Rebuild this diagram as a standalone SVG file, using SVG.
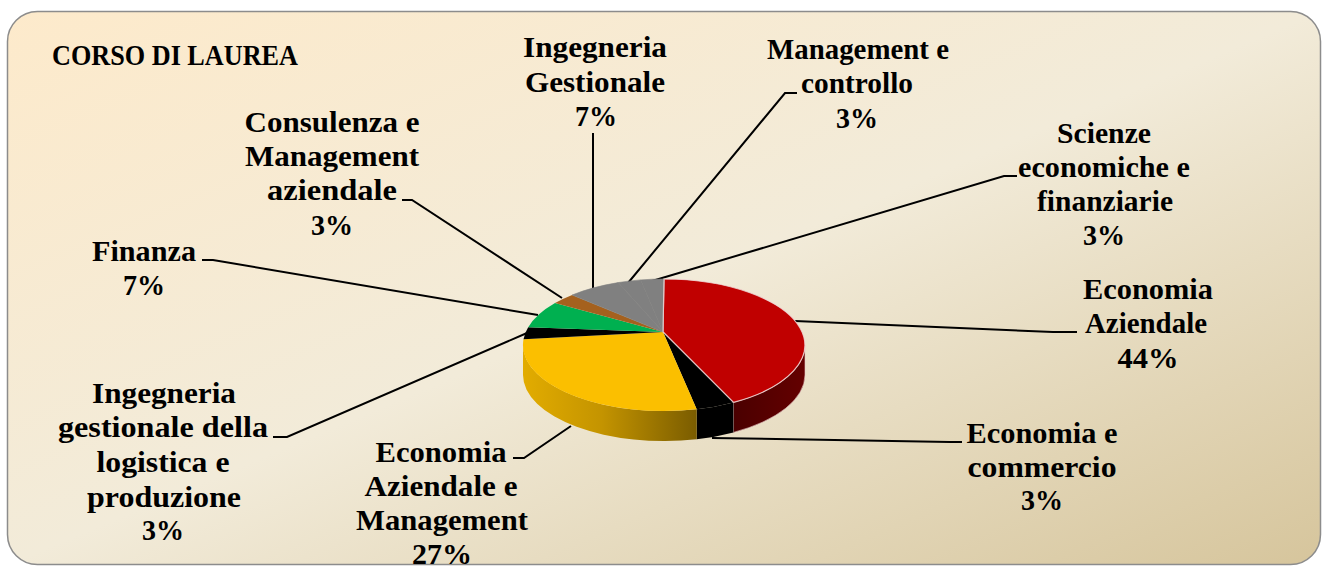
<svg xmlns="http://www.w3.org/2000/svg" width="1325" height="572" viewBox="0 0 1325 572">
<style>
  text { font-family: "Liberation Serif", "Times New Roman", serif; font-weight: bold; font-size: 29.5px; fill: #000; text-anchor: middle; }
  .lead { fill: none; stroke: #000; stroke-width: 2; }
  .top-red { fill: #C00000; stroke: #F0D8D8; stroke-width: 1.2; stroke-opacity: 0.8; }
</style>
<defs>
  <linearGradient id="bg" x1="0" y1="0" x2="1" y2="1">
    <stop offset="0" stop-color="#FDEACB"/>
    <stop offset="0.5" stop-color="#F2EBD9"/>
    <stop offset="1" stop-color="#D6C59C"/>
  </linearGradient>
  <linearGradient id="ySide" gradientUnits="userSpaceOnUse" x1="523" y1="0" x2="697" y2="0">
    <stop offset="0" stop-color="#E2AC00"/>
    <stop offset="0.45" stop-color="#C49400"/>
    <stop offset="1" stop-color="#7A5C00"/>
  </linearGradient>
  <linearGradient id="rSide" gradientUnits="userSpaceOnUse" x1="733" y1="0" x2="805" y2="0">
    <stop offset="0" stop-color="#4A0000"/>
    <stop offset="1" stop-color="#640000"/>
  </linearGradient>
</defs>

<rect x="7.5" y="11.5" width="1313" height="553" rx="30" ry="30" fill="url(#bg)" stroke="#8C8C8C" stroke-width="1.5"/>

<g id="title"><text x="52" y="65" style="text-anchor:start" textLength="246" lengthAdjust="spacingAndGlyphs">CORSO DI LAUREA</text></g>

<g id="connectors">
  <path class="lead" d="M795 321 L1053 332 L1077 332"/>
  <path class="lead" d="M712 438 L950 442 L962 442"/>
  <path class="lead" d="M571 426 L524 458 L513 458"/>
  <path class="lead" d="M527 333 L287 437 L273 437"/>
  <path class="lead" d="M538 315 L213 260 L202 260"/>
  <path class="lead" d="M562 298 L412 200 L402 200"/>
  <path class="lead" d="M593 288 L593 133"/>
  <path class="lead" d="M628 283 L785 93 L797 93"/>
  <path class="lead" d="M652 281 L1004 176 L1017 176"/>
</g>

<g id="pie">
  <g id="sides">
    <path d="M805 345 A141 66 0 0 1 733.4 402.4 L733.4 432.4 A141 66 0 0 0 805 375 Z" fill="url(#rSide)" stroke="#E8C8C8" stroke-width="1" stroke-opacity="0.6"/>
    <path d="M733.4 402.4 A141 66 0 0 1 696.7 409.2 L696.7 439.2 A141 66 0 0 0 733.4 432.4 Z" fill="#000"/>
    <path d="M696.7 409.2 A141 66 0 0 1 523 345 L523 375 A141 66 0 0 0 696.7 439.2 Z" fill="url(#ySide)"/>
  </g>
  <g id="slice-economia-aziendale"><path class="top-red" d="M663 332 L664 279 A141 66 0 0 1 733.4 402.4 Z"/></g>
  <g id="slice-economia-commercio"><path d="M663 332 L733.4 402.4 A141 66 0 0 1 696.7 409.2 Z" fill="#000"/></g>
  <g id="slice-economia-aziendale-management"><path d="M663 332 L696.7 409.2 A141 66 0 0 1 523.5 339.2 Z" fill="#FBBF00"/></g>
  <g id="slice-ing-logistica"><path d="M663 332 L523.5 339.2 A141 66 0 0 1 528.2 327.3 Z" fill="#000"/></g>
  <g id="slice-finanza"><path d="M663 332 L528.2 327.3 A141 66 0 0 1 555 303.1 Z" fill="#00B050"/></g>
  <g id="slice-consulenza"><path d="M663 332 L555 303.1 A141 66 0 0 1 572.1 295 Z" fill="#A5611E"/></g>
  <g id="slice-ing-gestionale"><path d="M663 332 L572.1 295 A141 66 0 0 1 618.1 282.6 Z" fill="#808080" stroke="#808080" stroke-width="0.6"/></g>
  <g id="slice-management-controllo"><path d="M663 332 L618.1 282.6 A141 66 0 0 1 640.7 279.9 Z" fill="#808080" stroke="#808080" stroke-width="0.6"/></g>
  <g id="slice-scienze"><path d="M663 332 L640.7 279.9 A141 66 0 0 1 664 279 Z" fill="#808080" stroke="#808080" stroke-width="0.6"/></g>
  <path d="M664 279 L663 332 L733.4 402.4" fill="none" stroke="#F0D8D8" stroke-width="1.2" stroke-opacity="0.8"/>
</g>

<g id="label-ing-gestionale">
  <text x="595" y="57" textLength="144" lengthAdjust="spacingAndGlyphs">Ingegneria</text>
  <text x="595" y="92" textLength="140" lengthAdjust="spacingAndGlyphs">Gestionale</text>
  <text x="596" y="126" textLength="42" lengthAdjust="spacingAndGlyphs">7%</text>
</g>
<g id="label-consulenza">
  <text x="332" y="132" textLength="175" lengthAdjust="spacingAndGlyphs">Consulenza e</text>
  <text x="332" y="166" textLength="174" lengthAdjust="spacingAndGlyphs">Management</text>
  <text x="332" y="200" textLength="130" lengthAdjust="spacingAndGlyphs">aziendale</text>
  <text x="332" y="235" textLength="42" lengthAdjust="spacingAndGlyphs">3%</text>
</g>
<g id="label-management-controllo">
  <text x="858" y="59" textLength="182" lengthAdjust="spacingAndGlyphs">Management e</text>
  <text x="857" y="93" textLength="112" lengthAdjust="spacingAndGlyphs">controllo</text>
  <text x="857" y="128" textLength="42" lengthAdjust="spacingAndGlyphs">3%</text>
</g>
<g id="label-scienze">
  <text x="1104" y="143" textLength="94" lengthAdjust="spacingAndGlyphs">Scienze</text>
  <text x="1104" y="177" textLength="172" lengthAdjust="spacingAndGlyphs">economiche e</text>
  <text x="1105" y="211" textLength="136" lengthAdjust="spacingAndGlyphs">finanziarie</text>
  <text x="1104" y="245" textLength="42" lengthAdjust="spacingAndGlyphs">3%</text>
</g>
<g id="label-finanza">
  <text x="144" y="261" textLength="104" lengthAdjust="spacingAndGlyphs">Finanza</text>
  <text x="144" y="295" textLength="42" lengthAdjust="spacingAndGlyphs">7%</text>
</g>
<g id="label-ing-logistica">
  <text x="164" y="403" textLength="144" lengthAdjust="spacingAndGlyphs">Ingegneria</text>
  <text x="163" y="437" textLength="210" lengthAdjust="spacingAndGlyphs">gestionale della</text>
  <text x="163" y="472" textLength="133" lengthAdjust="spacingAndGlyphs">logistica e</text>
  <text x="164" y="507" textLength="154" lengthAdjust="spacingAndGlyphs">produzione</text>
  <text x="163" y="540" textLength="42" lengthAdjust="spacingAndGlyphs">3%</text>
</g>
<g id="label-economia-aziendale-management">
  <text x="441" y="462" textLength="131" lengthAdjust="spacingAndGlyphs">Economia</text>
  <text x="441" y="496" textLength="153" lengthAdjust="spacingAndGlyphs">Aziendale e</text>
  <text x="442" y="530" textLength="172" lengthAdjust="spacingAndGlyphs">Management</text>
  <text x="442" y="564" textLength="60" lengthAdjust="spacingAndGlyphs">27%</text>
</g>
<g id="label-economia-aziendale">
  <text x="1148" y="299" textLength="130" lengthAdjust="spacingAndGlyphs">Economia</text>
  <text x="1146" y="333" textLength="122" lengthAdjust="spacingAndGlyphs">Aziendale</text>
  <text x="1148" y="368" textLength="61" lengthAdjust="spacingAndGlyphs">44%</text>
</g>
<g id="label-economia-commercio">
  <text x="1042" y="443" textLength="151" lengthAdjust="spacingAndGlyphs">Economia e</text>
  <text x="1042" y="477" textLength="149" lengthAdjust="spacingAndGlyphs">commercio</text>
  <text x="1042" y="510" textLength="42" lengthAdjust="spacingAndGlyphs">3%</text>
</g>
</svg>
